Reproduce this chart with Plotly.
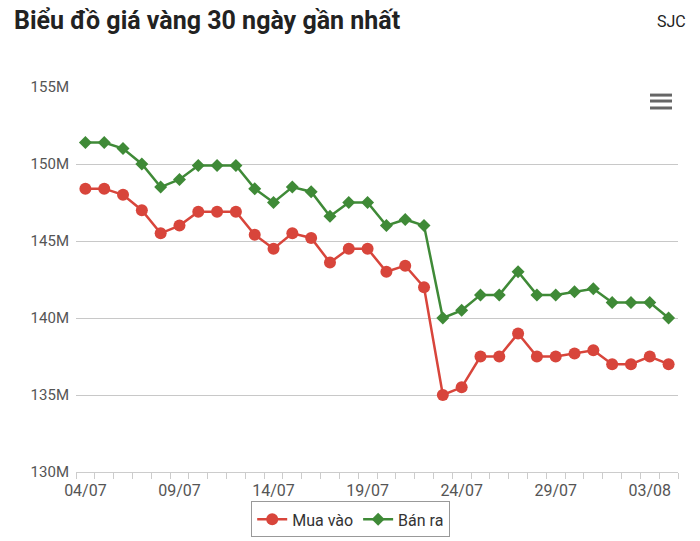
import pandas as pd
import plotly.graph_objects as go

# ngay (dd/mm), gia tinh bang trieu dong
DATES = ["04/07", "05/07", "06/07", "07/07", "08/07", "09/07", "10/07", "11/07",
         "12/07", "13/07", "14/07", "15/07", "16/07", "17/07", "18/07", "19/07",
         "20/07", "21/07", "22/07", "23/07", "24/07", "25/07", "26/07", "27/07",
         "28/07", "29/07", "30/07", "31/07", "01/08", "02/08", "03/08", "04/08"]
BUY = [148.4, 148.4, 148.0, 147.0, 145.5, 146.0, 146.9, 146.9,
       146.9, 145.4, 144.5, 145.5, 145.2, 143.6, 144.5, 144.5,
       143.0, 143.4, 142.0, 135.0, 135.5, 137.5, 137.5, 139.0,
       137.5, 137.5, 137.7, 137.9, 137.0, 137.0, 137.5, 137.0]
SELL = [151.4, 151.4, 151.0, 150.0, 148.5, 149.0, 149.9, 149.9,
        149.9, 148.4, 147.5, 148.5, 148.2, 146.6, 147.5, 147.5,
        146.0, 146.4, 146.0, 140.0, 140.5, 141.5, 141.5, 143.0,
        141.5, 141.5, 141.7, 141.9, 141.0, 141.0, 141.0, 140.0]
Y_TICKS = [130, 135, 140, 145, 150, 155]

x = pd.to_datetime([d + "/2025" for d in DATES], format="%d/%m/%Y")
day = pd.Timedelta(days=1)

RED = "#d8453b"
GREEN = "#3f8a37"
FONT = "Roboto, sans-serif"

fig = go.Figure()
fig.add_trace(go.Scatter(x=x, y=BUY, name="Mua vào", mode="lines+markers",
                         line=dict(color=RED, width=2.5),
                         marker=dict(symbol="circle", size=12, color=RED)))
fig.add_trace(go.Scatter(x=x, y=SELL, name="Bán ra", mode="lines+markers",
                         line=dict(color=GREEN, width=2.5),
                         marker=dict(symbol="diamond", size=10, color=GREEN)))

fig.update_xaxes(range=[x[0] - day / 2, x[-1] + day / 2],
                 tickmode="array", tickvals=list(x[::5]), tickformat="%d/%m",
                 ticks="", showgrid=False, zeroline=False, ticklabelstandoff=4,
                 showline=True, linecolor="#cccccc", linewidth=1,
                 tickfont=dict(family=FONT, size=16, color="#555555"),
                 minor=dict(ticks="outside", ticklen=6, tickcolor="#cccccc",
                            dtick=86400000, tick0=x[0] - day / 2, showgrid=False))
fig.update_yaxes(range=[Y_TICKS[0], Y_TICKS[-1]], tickmode="array", tickvals=Y_TICKS,
                 ticktext=[f"{v}M" for v in Y_TICKS],
                 showgrid=True, gridcolor="#c8c8c8", gridwidth=1,
                 zeroline=False, ticks="", ticklabelstandoff=6,
                 tickfont=dict(family=FONT, size=15, color="#555555"))

# nut menu (3 gach)
for yy in [0.979, 0.9636, 0.9455]:
    fig.add_shape(type="line", xref="paper", yref="paper", x0=0.9535, x1=0.99,
                  y0=yy, y1=yy, line=dict(color="#666666", width=3))

fig.add_annotation(text="SJC", xref="paper", yref="paper", x=1.0166, y=1.171,
                   xanchor="right", yanchor="middle", showarrow=False,
                   font=dict(family=FONT, size=16, color="#222222"))

fig.update_layout(
    width=700, height=541,
    title=dict(text="<b>Biểu đồ giá vàng 30 ngày gần nhất</b>", xref="container",
               x=0.02, xanchor="left", y=0.962, yanchor="middle",
               font=dict(family=FONT, size=25, color="#222222")),
    margin=dict(l=76, r=22, t=87, b=69, autoexpand=False),
    plot_bgcolor="white", paper_bgcolor="white",
    showlegend=True,
    legend=dict(orientation="h", xref="container", x=0.501, xanchor="center",
                yref="container", y=0.04, yanchor="middle",
                bordercolor="#999999", borderwidth=1,
                font=dict(family=FONT, size=16, color="#333333")),
    hovermode="closest",
)

fig.write_html("out.html", config={"displayModeBar": False},
               post_script="document.body.style.margin='0';")
